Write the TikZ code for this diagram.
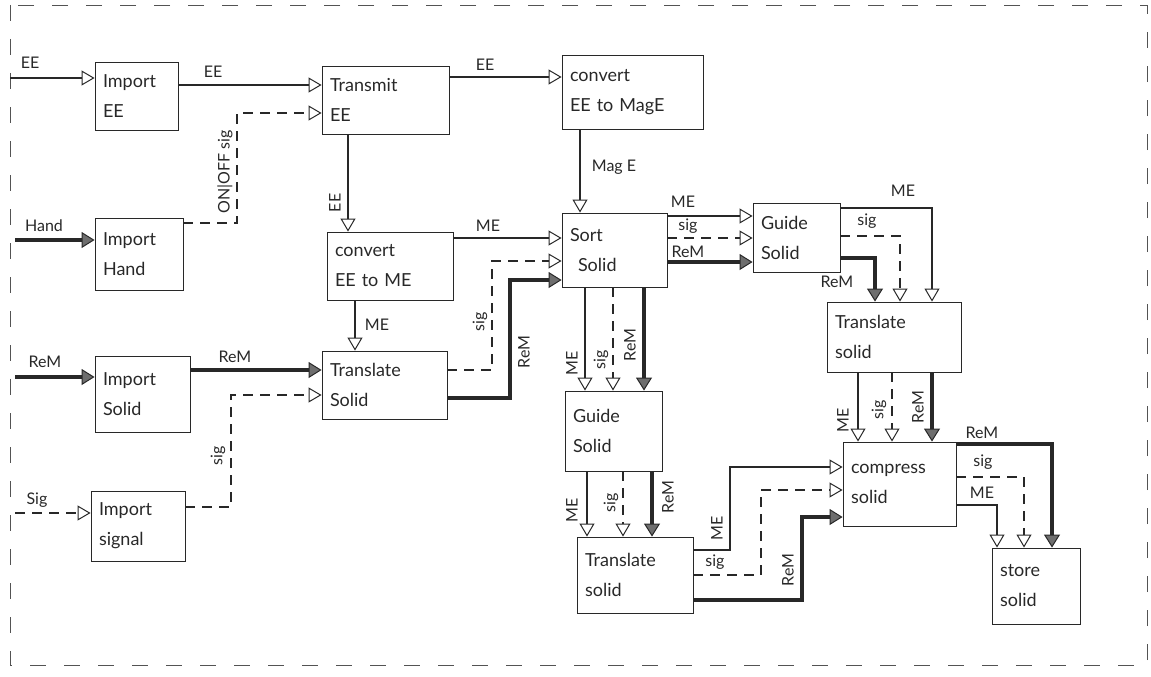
\documentclass[tikz,border=0pt]{standalone}
\usepackage{fontspec}
\setmainfont{Lato}
\usetikzlibrary{arrows.meta}
\definecolor{ink}{RGB}{40,40,40}
\definecolor{headfill}{RGB}{110,110,110}
\newcommand{\boxfont}{\fontsize{18}{30}\selectfont}
\newcommand{\lblfont}{\fontsize{16}{18}\selectfont}
\tikzset{
  bx/.style={draw=ink, line width=0.9pt, align=left, inner xsep=8pt, inner ysep=4pt, font=\boxfont, text=ink},
  flow/.style={draw=ink, line width=1.1pt, -{Triangle[open, length=13pt, width=15pt, line width=1pt]}},
  sigf/.style={flow, dash pattern=on 10pt off 7pt},
  rem/.style={draw=ink, line width=3.2pt, -{Triangle[length=13pt, width=16pt, fill=headfill, line width=1pt]}},
  lbl/.style={font=\lblfont, text=ink, inner sep=1pt},
  vlbl/.style={lbl, rotate=90},
  border/.style={draw=ink!80, line width=0.9pt, dash pattern=on 16pt off 18pt}
}
\begin{document}
\begin{tikzpicture}[x=1pt,y=-1pt]
\useasboundingbox (0,0) rectangle (1151,677);
\draw[border] (10,5) rectangle (1147,665);

% boxes
\node[bx, minimum width=83pt, minimum height=68pt, text width=67pt] (ie) at (136.5,96) {Import\\EE};
\node[bx, minimum width=127pt, minimum height=68pt, text width=111pt] (tx) at (385.5,100) {Transmit\\EE};
\node[bx, minimum width=141pt, minimum height=74pt, text width=125pt] (cm) at (632.5,92) {convert\\EE to MagE};
\node[bx, minimum width=88pt, minimum height=72pt, text width=72pt] (ih) at (139,254) {Import\\Hand};
\node[bx, minimum width=126pt, minimum height=68pt, text width=110pt] (cme) at (390,266) {convert\\EE to ME};
\node[bx, minimum width=105pt, minimum height=74pt, text width=89pt] (ss) at (614.5,250) {Sort\\\hspace*{8pt}Solid};
\node[bx, minimum width=87pt, minimum height=69pt, text width=71pt] (g1) at (796.5,237.5) {Guide\\Solid};
\node[bx, minimum width=134pt, minimum height=70pt, text width=118pt] (t1) at (894,337) {Translate\\solid};
\node[bx, minimum width=95pt, minimum height=76pt, text width=79pt] (is) at (142.5,394.5) {Import\\Solid};
\node[bx, minimum width=125pt, minimum height=68pt, text width=109pt] (tm) at (384.5,385) {Translate\\Solid};
\node[bx, minimum width=97pt, minimum height=80pt, text width=81pt] (g2) at (613.5,431) {Guide\\Solid};
\node[bx, minimum width=94pt, minimum height=70pt, text width=78pt] (isg) at (138,526) {Import\\signal};
\node[bx, minimum width=113pt, minimum height=84pt, text width=97pt] (cs) at (899.5,484) {compress\\solid};
\node[bx, minimum width=116pt, minimum height=76pt, text width=100pt] (tb) at (635,575) {Translate\\solid};
\node[bx, minimum width=88pt, minimum height=76pt, text width=72pt] (st) at (1036,586) {store\\solid};

% free input ends
\coordinate (inEE) at (10,78);
\coordinate (inHand) at (15,240);
\coordinate (inReM) at (15,377);
\coordinate (inSig) at (15,513);

% inputs
\draw[flow] (inEE) -- (ie.west |- inEE);
\draw[rem] (inHand) -- (ih.west |- inHand);
\draw[rem] (inReM) -- (is.west |- inReM);
\draw[sigf] (inSig) -- (isg.west |- inSig);

% left part
\draw[flow] (ie.east |- 0,85) -- (tx.west |- 0,85);
\draw[sigf] (ih.east |- 0,223) -| (237,113) -- (tx.west |- 0,113);
\draw[flow] (tx.south -| 348,0) -- (cme.north -| 348,0);
\draw[flow] (tx.east |- 0,77) -- (cm.west |- 0,77);
\draw[flow] (cm.south -| 580,0) -- (ss.north -| 580,0);
\draw[flow] (cme.east |- 0,238) -- (ss.west |- 0,238);
\draw[sigf] (tm.east |- 0,370) -| (492,261) -- (ss.west |- 0,261);
\draw[rem] (tm.east |- 0,398) -| (510,280) -- (ss.west |- 0,280);
\draw[rem] (is.east |- 0,370) -- (tm.west |- 0,370);
\draw[flow] (cme.south -| 355,0) -- (tm.north -| 355,0);
\draw[sigf] (isg.east |- 0,507) -| (231,395) -- (tm.west |- 0,395);

% sort -> guide (top)
\draw[flow] (ss.east |- 0,216) -- (g1.west |- 0,216);
\draw[sigf] (ss.east |- 0,238) -- (g1.west |- 0,238);
\draw[rem] (ss.east |- 0,262) -- (g1.west |- 0,262);

% sort -> guide (lower)
\draw[flow] (ss.south -| 585,0) -- (g2.north -| 585,0);
\draw[sigf] (ss.south -| 613,0) -- (g2.north -| 613,0);
\draw[rem] (ss.south -| 644,0) -- (g2.north -| 644,0);

% guide (top) -> translate (right)
\draw[flow] (g1.east |- 0,208) -| (t1.north -| 932,0);
\draw[sigf] (g1.east |- 0,236) -| (t1.north -| 900,0);
\draw[rem] (g1.east |- 0,258) -| (t1.north -| 875,0);

% translate (right) -> compress
\draw[flow] (t1.south -| 858,0) -- (cs.north -| 858,0);
\draw[sigf] (t1.south -| 892,0) -- (cs.north -| 892,0);
\draw[rem] (t1.south -| 932,0) -- (cs.north -| 932,0);

% guide (lower) -> translate (bottom)
\draw[flow] (g2.south -| 587,0) -- (tb.north -| 587,0);
\draw[sigf] (g2.south -| 623,0) -- (tb.north -| 623,0);
\draw[rem] (g2.south -| 652,0) -- (tb.north -| 652,0);

% translate (bottom) -> compress
\draw[flow] (tb.east |- 0,550) -| (730,467) -- (cs.west |- 0,467);
\draw[sigf] (tb.east |- 0,575) -| (761,490) -- (cs.west |- 0,490);
\draw[rem] (tb.east |- 0,600) -| (802,517) -- (cs.west |- 0,517);

% compress -> store
\draw[rem] (cs.east |- 0,444) -| (st.north -| 1052,0);
\draw[sigf] (cs.east |- 0,477) -| (st.north -| 1024,0);
\draw[flow] (cs.east |- 0,505) -| (st.north -| 997,0);

% labels
\node[lbl] (l1) at (30,63) {EE};
\node[lbl] (l2) at (213,72) {EE};
\node[lbl] (l3) at (44,226) {Hand};
\node[vlbl] (l4) at (225,172) {ON|OFF sig};
\node[vlbl] (l5) at (335,203) {EE};
\node[lbl] (l6) at (485,65) {EE};
\node[lbl] (l7) at (614,167) {Mag E};
\node[lbl] (l8) at (488,226) {ME};
\node[vlbl] (l9) at (480,322) {sig};
\node[vlbl] (l10) at (524,352) {ReM};
\node[lbl] (l11) at (45,362) {ReM};
\node[lbl] (l12) at (235,357) {ReM};
\node[lbl] (l13) at (377,325) {ME};
\node[vlbl] (l14) at (218,456) {sig};
\node[lbl] (l15) at (37,500) {Sig};
\node[lbl] (l16) at (683,202) {ME};
\node[lbl] (l17) at (688,226) {sig};
\node[lbl] (l18) at (688,252) {ReM};
\node[vlbl] (l19) at (572,363) {ME};
\node[vlbl] (l20) at (601,360) {sig};
\node[vlbl] (l21) at (630,345) {ReM};
\node[lbl] (l22) at (903,191) {ME};
\node[lbl] (l23) at (867,221) {sig};
\node[lbl] (l24) at (837,282) {ReM};
\node[vlbl] (l25) at (843,420) {ME};
\node[vlbl] (l26) at (879,410) {sig};
\node[vlbl] (l27) at (918,407) {ReM};
\node[vlbl] (l28) at (572,510) {ME};
\node[vlbl] (l29) at (611,503) {sig};
\node[vlbl] (l30) at (668,497) {ReM};
\node[vlbl] (l31) at (717,528) {ME};
\node[lbl] (l32) at (715,562) {sig};
\node[vlbl] (l33) at (788,570) {ReM};
\node[lbl] (l34) at (982,433) {ReM};
\node[lbl] (l35) at (983,462) {sig};
\node[lbl] (l36) at (982,493) {ME};
\end{tikzpicture}
\end{document}
